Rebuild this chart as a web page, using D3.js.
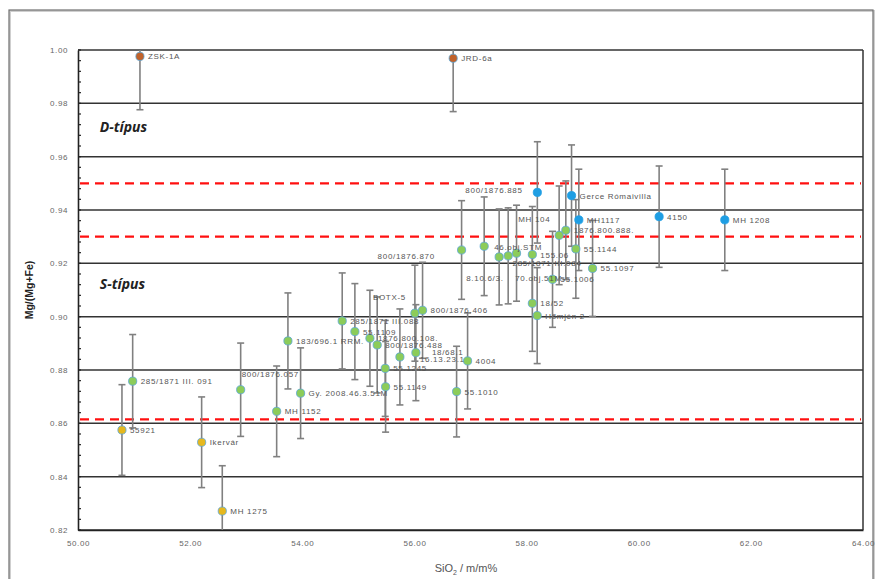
<!DOCTYPE html>
<html><head><meta charset="utf-8">
<script src="https://cdn.jsdelivr.net/npm/d3@7"></script>
<style>body{margin:0;background:#fff}svg{display:block}</style>
</head><body>
<svg id="c" width="880" height="579"></svg>
<script>
// ---- data ----
const labels = ["ZSK-1A","JRD-6a",
 "800/1876.885","Gerce Rómaivilla","MH1117","4150","MH 1208",
 "55921","Ikervár","MH 1275",
 "285/1871 III. 091","800/1876.057","MH 1152","183/696.1 RRM.","Gy. 2008.46.3.51M",
 "285/1871 III.088","55.1109","1876.800.108.","800/1876.488","55.1245","55.1149",
 "16.13.23.1","18/68.1","BOTX-5","800/1876.406","4004","55.1010",
 "800/1876.870","8.10.6/3.","46.obj.STM","70.obj.51M","285/1871 III.084","155.06",
 "18/52","Hőmjén 2","55.1006","MH 104","1876.800.888.","55.1144","55.1097"];
const sio2 = [51.105,56.691,
 58.192,58.802,58.932,60.364,61.535,
 50.784,52.205,52.573,
 50.975,52.901,53.543,53.744,53.970,
 54.712,54.938,55.206,55.336,55.479,55.486,
 55.741,56.026,56.008,56.145,56.948,56.752,
 56.841,57.244,57.511,57.672,57.821,58.103,
 58.103,58.189,58.463,58.581,58.700,58.879,59.177];
const mgNum = [0.9976,0.9969,
 0.9466,0.9454,0.9363,0.9375,0.9363,
 0.8575,0.8529,0.8271,
 0.8758,0.8726,0.8645,0.8909,0.8713,
 0.8984,0.8944,0.8919,0.8894,0.8806,0.8737,
 0.8849,0.8865,0.9013,0.9024,0.8834,0.8719,
 0.9250,0.9264,0.9224,0.9228,0.9238,0.9233,
 0.9050,0.9004,0.9140,0.9305,0.9324,0.9254,0.9181];
const errs = [0.020,0.020,
 0.019,0.019,0.019,0.019,0.019,
 0.017,0.017,0.017,
 0.0175,0.0175,0.017,0.018,0.017,
 0.018,0.018,0.018,0.018,0.018,0.017,
 0.018,0.018,0.018,0.018,0.018,0.017,
 0.0185,0.0185,0.018,0.018,0.018,0.018,
 0.018,0.018,0.018,0.0185,0.0185,0.0185,0.018];
const groups = ["ref","ref",
 "D","D","D","D","D",
 "low","low","low",
 "S","S","S","S","S","S","S","S","S","S","S","S","S","S","S","S","S",
 "S","S","S","S","S","S","S","S","S","S","S","S","S"];
const thresholds = [0.95, 0.93, 0.8615];
const yTicks = [0.82,0.84,0.86,0.88,0.90,0.92,0.94,0.96,0.98,1.00];
const xTicks = [50,52,54,56,58,60,62,64];
const zoneLabels = ["D-típus","S-típus"];
const zoneValues = [0.9694, 0.9104];

// ---- layout / style ----
const fill = {ref:"#c0622b", D:"#1f9ee3", low:"#e6b81e", S:"#8ccc5a"};
const stroke = {ref:"#5aa6d8", D:"#1f9ee3", low:"#5aa6d8", S:"#5aa6d8"};
const labelOffsets = {"800/1876.870":[-84,9],"800/1876.885":[-72,1],"800/1876.057":[1,-13],
 "BOTX-5":[-42,-13],"8.10.6/3.":[-18,35],"46.obj.STM":[-5,-7],"70.obj.51M":[7,25],
 "285/1871 III.084":[-4,13],"MH 104":[-41,-13],"16.13.23.1":[20,5],"18/68.1":[16,2]};

const svg = d3.select("#c");
const x = d3.scaleLinear([50,64],[78,863]);
const y = d3.scaleLinear([0.82,1.00],[530,50]);

// outer frame
svg.append("rect").attr("x",10).attr("y",11).attr("width",864).attr("height",575)
  .attr("fill","none").attr("stroke","#cfcfcf").attr("stroke-width",2);
svg.append("rect").attr("x",9).attr("y",10).attr("width",864).attr("height",575)
  .attr("fill","none").attr("stroke","#707070").attr("stroke-width",1.2);

const defs = svg.append("defs");
defs.append("clipPath").attr("id","pc").append("rect")
  .attr("x",78).attr("y",50).attr("width",785).attr("height",480);

// gridlines
svg.append("g").selectAll("line").data(yTicks).join("line")
  .attr("x1",x(50)).attr("x2",x(64)).attr("y1",d=>y(d)).attr("y2",d=>y(d))
  .attr("stroke","#333").attr("stroke-width",1.5);
// right border
svg.append("line").attr("x1",x(64)).attr("x2",x(64)).attr("y1",y(1)).attr("y2",y(0.82))
  .attr("stroke","#333").attr("stroke-width",1.5);

// threshold lines
svg.append("g").selectAll("line").data(thresholds).join("line")
  .attr("x1",x(50)+2).attr("x2",x(64)-2).attr("y1",d=>y(d)).attr("y2",d=>y(d))
  .attr("stroke","#ff1010").attr("stroke-width",2.4).attr("stroke-dasharray","9,6");

// y axis
const yAxis = d3.axisLeft(y).tickValues(yTicks).tickFormat(d3.format(".2f")).tickSize(0).tickPadding(10);
const ya = svg.append("g").attr("transform",`translate(${x(50)},0)`).call(yAxis);
ya.select(".domain").attr("stroke","#222").attr("stroke-width",1.6);
ya.selectAll("text").attr("font-family","Liberation Sans, Arial").attr("font-size",8)
  .attr("fill","#666").attr("letter-spacing",0.6);
// minor ticks (inside)
const minor = d3.range(0, 46).map(i => 0.82 + i*0.004);
svg.append("g").selectAll("line").data(minor).join("line")
  .attr("x1",x(50)).attr("x2",x(50)+3).attr("y1",d=>y(d)).attr("y2",d=>y(d))
  .attr("stroke","#222").attr("stroke-width",1.2);

// x axis
const xAxis = d3.axisBottom(x).tickValues(xTicks).tickFormat(d3.format(".2f")).tickSize(0).tickPadding(10);
const xa = svg.append("g").attr("transform",`translate(0,${y(0.82)})`).call(xAxis);
xa.select(".domain").attr("stroke","#222").attr("stroke-width",1.6);
xa.selectAll("text").attr("font-family","Liberation Sans, Arial").attr("font-size",8)
  .attr("fill","#666").attr("letter-spacing",0.6);

// titles
svg.append("text").attr("transform","translate(33,290) rotate(-90)").attr("text-anchor","middle")
  .attr("font-family","Liberation Sans, Arial").attr("font-weight","bold").attr("font-size",10.5)
  .attr("fill","#222").text("Mg/(Mg+Fe)");
const xt = svg.append("text").attr("x",466).attr("y",572).attr("text-anchor","middle")
  .attr("font-family","Liberation Sans, Arial").attr("font-size",11).attr("fill","#555");
xt.append("tspan").text("SiO");
xt.append("tspan").attr("font-size",7).attr("dy",3).text("2");
xt.append("tspan").attr("dy",-3).text(" / m/m%");

// zone labels
svg.append("g").selectAll("text").data(zoneLabels).join("text")
  .attr("x",x(50.39)).attr("y",(d,i)=>y(zoneValues[i]))
  .attr("font-family","Open Sans, Liberation Sans, Arial").attr("font-weight","bold")
  .attr("font-style","italic").attr("font-size",14).attr("fill","#222").text(d=>d);

// data
const data = labels.map((l,i)=>({l, x:sio2[i], y:mgNum[i], e:errs[i], g:groups[i]}));
const plot = svg.append("g").attr("clip-path","url(#pc)");
const eb = plot.append("g").attr("stroke","#808080").attr("stroke-width",1.6);
data.forEach(d=>{
  eb.append("line").attr("x1",x(d.x)).attr("x2",x(d.x)).attr("y1",y(d.y-d.e)).attr("y2",y(d.y+d.e));
  [d.y-d.e, d.y+d.e].forEach(v=>eb.append("line").attr("x1",x(d.x)-3.5).attr("x2",x(d.x)+3.5)
    .attr("y1",y(v)).attr("y2",y(v)));
});
svg.append("g").selectAll("circle").data(data).join("circle")
  .attr("cx",d=>x(d.x)).attr("cy",d=>y(d.y)).attr("r",4.1)
  .attr("fill",d=>fill[d.g]).attr("stroke",d=>stroke[d.g]).attr("stroke-width",0.8);
svg.append("g").selectAll("text").data(data).join("text")
  .attr("x",d=>x(d.x)+(labelOffsets[d.l]||[8,3])[0])
  .attr("y",d=>y(d.y)+(labelOffsets[d.l]||[8,3])[1])
  .attr("font-family","Liberation Sans, Arial").attr("font-size",8)
  .attr("letter-spacing",0.7).attr("fill","#555").text(d=>d.l);
</script>
</body></html>
